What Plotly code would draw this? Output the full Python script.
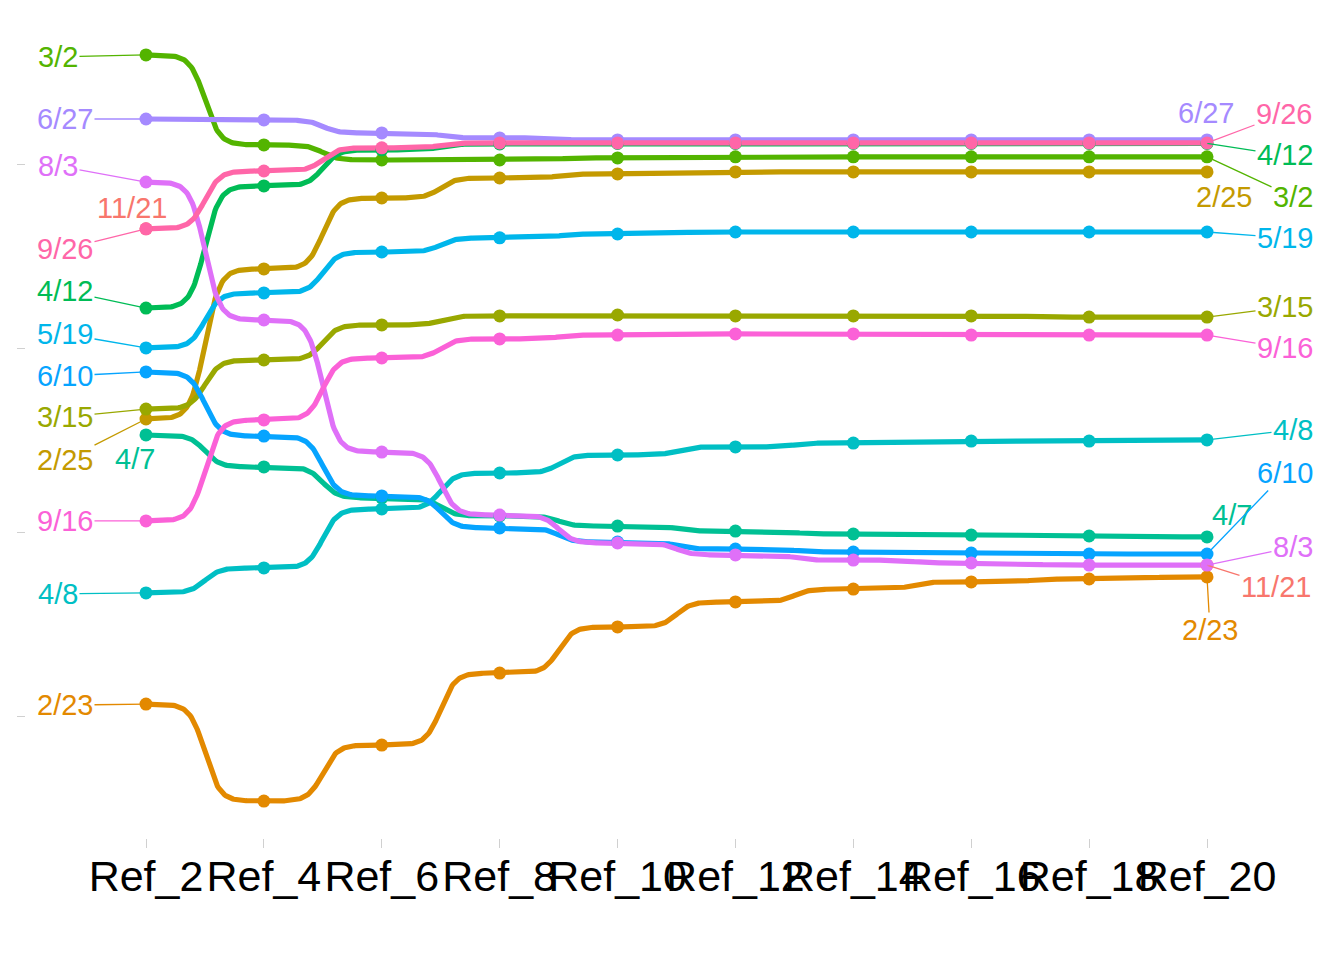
import numpy as np
import plotly.graph_objects as go

# ---------------- data ----------------
refs = ["Ref_2", "Ref_4", "Ref_6", "Ref_8", "Ref_10",
        "Ref_12", "Ref_14", "Ref_16", "Ref_18", "Ref_20"]

series_names = ["11/21", "2/23", "2/25", "3/15", "3/2", "4/12", "4/7",
                "4/8", "5/19", "6/10", "6/27", "8/3", "9/16", "9/26"]

colors = ["#F8766D", "#E38900", "#C49A00", "#99A800", "#53B400", "#00BC56",
          "#00C094", "#00BFC4", "#00B6EB", "#06A4FF", "#A58AFF", "#DF70F8",
          "#FB61D7", "#FF66A8"]

v_11_21 = [2.652, None, None, None, None, None, None, None, None, 0.822]
v_2_23 = [0.065, -0.463, -0.158, 0.234, 0.485, 0.621, 0.691, 0.730, 0.746, 0.757]
v_2_25 = [1.617, 2.434, 2.820, 2.929, 2.951, 2.962, 2.962, 2.962, 2.962, 2.962]
v_3_15 = [1.671, 1.938, 2.129, 2.178, 2.183, 2.178, 2.178, 2.178, 2.172, 2.172]
v_3_2 = [3.599, 3.109, 3.027, 3.027, 3.038, 3.044, 3.044, 3.044, 3.044, 3.044]
v_4_12 = [2.221, 2.886, 3.082, 3.114, 3.117, 3.117, 3.117, 3.117, 3.117, 3.117]
v_4_7 = [1.530, 1.356, 1.187, 1.089, 1.034, 1.007, 0.991, 0.985, 0.980, 0.975]
v_4_8 = [0.670, 0.806, 1.127, 1.323, 1.421, 1.465, 1.486, 1.497, 1.497, 1.503]
v_5_19 = [2.004, 2.303, 2.526, 2.603, 2.624, 2.635, 2.635, 2.635, 2.635, 2.635]
v_6_10 = [1.873, 1.524, 1.198, 1.024, 0.947, 0.909, 0.893, 0.887, 0.882, 0.882]
v_6_27 = [3.250, 3.245, 3.174, 3.147, 3.136, 3.136, 3.136, 3.136, 3.136, 3.136]
v_8_3 = [2.907, 2.156, 1.437, 1.094, 0.942, 0.877, 0.849, 0.833, 0.822, 0.822]
v_9_16 = [1.062, 1.612, 1.949, 2.053, 2.074, 2.080, 2.080, 2.074, 2.074, 2.074]
v_9_26 = [2.652, 2.967, 3.093, 3.120, 3.120, 3.120, 3.120, 3.120, 3.120, 3.120]

values = [v_11_21, v_2_23, v_2_25, v_3_15, v_3_2, v_4_12, v_4_7,
          v_4_8, v_5_19, v_6_10, v_6_27, v_8_3, v_9_16, v_9_26]

# ---------------- label placement (pixel offsets, layout only) ----------------
# (ax, ay, arrow) : arrow=True -> repel segment; else plain shift
left_labels = {
    "3/2": (-88, 2, True), "6/27": (-81, 0, True), "8/3": (-88, -16, True),
    "11/21": (-14, -21, False), "9/26": (-81, 20, True), "4/12": (-81, -17, True),
    "5/19": (-81, -14, True), "6/10": (-81, 4, True), "3/15": (-81, 8, True),
    "2/25": (-81, 41, True), "4/7": (-11, 24, False), "9/16": (-81, 0, True),
    "4/8": (-88, 1, True), "2/23": (-81, 1, True),
}
right_labels = {
    "6/27": (-1, -27, False), "9/26": (77, -29, True), "4/12": (78, 12, True),
    "2/25": (17, 25, False), "3/2": (86, 40, True), "5/19": (78, 6, True),
    "3/15": (78, -10, True), "9/16": (78, 13, True), "4/8": (86, -10, True),
    "6/10": (78, -81, True), "4/7": (25, -22, False), "8/3": (86, -18, True),
    "11/21": (69, 22, True), "2/23": (3, 53, True),
}


def bump_path(xs, ys, smooth=8, n=100):
    """ggbump-style sigmoid path between consecutive points."""
    px, py = [], []
    t = np.linspace(-smooth, smooth, n)
    s = np.exp(t) / (np.exp(t) + 1)
    for i in range(len(xs) - 1):
        if ys[i] is None or ys[i + 1] is None:
            if px and px[-1] is not None:
                px.append(None)
                py.append(None)
            continue
        sx = (t + smooth) / (2 * smooth) * (xs[i + 1] - xs[i]) + xs[i]
        sy = s * (ys[i + 1] - ys[i]) + ys[i]
        px.extend(sx.tolist())
        py.extend(sy.tolist())
    return px, py


fig = go.Figure()
xpos = list(range(len(refs)))

# lines
for name, col, vals in zip(series_names, colors, values):
    lx, ly = bump_path(xpos, vals)
    if lx:
        fig.add_trace(go.Scatter(x=lx, y=ly, mode="lines",
                                 line=dict(color=col, width=5.2),
                                 hoverinfo="skip", showlegend=False))
# points
for name, col, vals in zip(series_names, colors, values):
    px = [x for x, v in zip(xpos, vals) if v is not None]
    py = [v for v in vals if v is not None]
    fig.add_trace(go.Scatter(x=px, y=py, mode="markers", name=name,
                             marker=dict(color=col, size=13, line=dict(width=0)),
                             showlegend=False))

FONT = "Liberation Sans, Arial, sans-serif"
annotations = []
for name, col, vals in zip(series_names, colors, values):
    for idx, lab in ((0, left_labels), (len(refs) - 1, right_labels)):
        if vals[idx] is None or name not in lab:
            continue
        ax, ay, arrow = lab[name]
        if arrow:
            annotations.append(dict(x=xpos[idx], y=vals[idx], text=name,
                                    showarrow=True, ax=ax, ay=ay,
                                    arrowhead=0, arrowwidth=1.3, arrowcolor=col,
                                    standoff=0, startstandoff=0,
                                    font=dict(family=FONT, size=29, color=col)))
        else:
            annotations.append(dict(x=xpos[idx], y=vals[idx], text=name,
                                    showarrow=False, xshift=ax, yshift=-ay,
                                    xanchor="center", yanchor="middle",
                                    font=dict(family=FONT, size=29, color=col)))

fig.update_layout(
    width=1344, height=960,
    margin=dict(l=26, r=0, t=20, b=122),
    paper_bgcolor="white", plot_bgcolor="white",
    showlegend=False,
    annotations=annotations,
    xaxis=dict(range=[-1.0179, 10.162], tickvals=xpos, ticktext=refs,
               tickangle=0, ticks="outside", ticklen=9, tickwidth=1,
               tickcolor="#D0D0D0", showgrid=False, zeroline=False,
               showline=False, ticklabelstandoff=-9,
               tickfont=dict(family=FONT, size=43, color="black")),
    yaxis=dict(range=[-0.664, 3.789], tickvals=[0, 1, 2, 3],
               showticklabels=False, ticks="outside", ticklen=8, tickwidth=1,
               tickcolor="#D0D0D0", showgrid=False, zeroline=False,
               showline=False),
)

fig.write_html("out.html")
